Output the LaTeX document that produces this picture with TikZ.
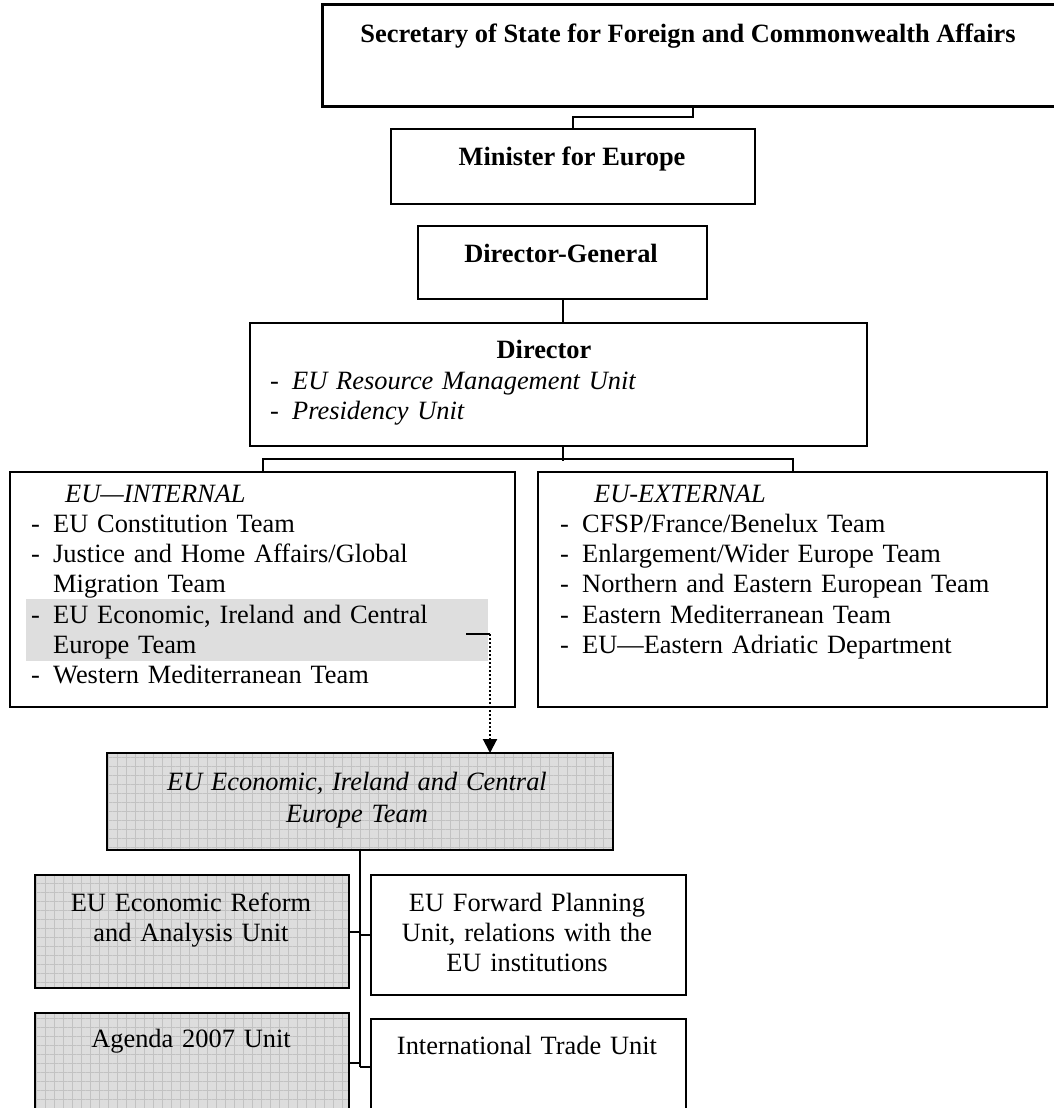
\documentclass[tikz,border=0pt]{standalone}
\usepackage{fontspec}
\setmainfont{Liberation Serif}
\usetikzlibrary{arrows.meta,positioning,patterns.meta}
\definecolor{hilite}{HTML}{DEDEDE}
\definecolor{shade}{HTML}{DDDDDD}
\definecolor{gridln}{HTML}{C2C2C2}
\newcommand{\dashitem}[1]{\makebox[22pt][l]{-}#1}
\newcommand{\contline}[1]{\hspace*{22pt}#1}
\newcommand{\headline}[1]{\hspace*{34pt}\textit{#1}}

\begin{document}
\begin{tikzpicture}[x=1pt,y=1pt,
  font=\fontsize{26.4}{30.3}\selectfont,
  box/.style={draw, line width=2pt, anchor=north west, inner sep=0pt},
  topbox/.style={box, line width=2.6pt},
  shaded/.style={box, preaction={fill=shade},
    pattern={Hatch[angle=0,distance=9pt,line width=0.6pt]}, pattern color=gridln},
  txt/.style={inner sep=0pt, anchor=base, align=center},
  lst/.style={inner sep=0pt, anchor=base west, text width=#1, align=left},
  conn/.style={line width=2pt},
]
\path[fill=white, use as bounding box] (0,0) rectangle (1053,-1108);

% Top of the chain
\node[topbox, minimum width=741pt, minimum height=102pt] (sec) at (321,-3) {};
\node[txt, font=\fontsize{26.4}{30.3}\selectfont\bfseries] (sectxt) at (688,-43)
  {Secretary of State for Foreign and Commonwealth Affairs};

\node[box, minimum width=364pt, minimum height=75pt] (min) at (390,-128) {};
\node[txt, font=\fontsize{26.4}{30.3}\selectfont\bfseries] (mintxt) at (572,-165)
  {Minister for Europe};
\draw[conn] (min.north) -- ++(0,11) -| (sec.south);

\node[box, minimum width=289pt, minimum height=73pt] (dg) at (417,-225) {};
\node[txt, font=\fontsize{26.4}{30.3}\selectfont\bfseries] (dgtxt) at (561,-262)
  {Director-General};

% Director
\node[box, minimum width=617pt, minimum height=123pt] (dir) at (249,-322) {};
\node[txt, font=\fontsize{26.4}{30.3}\selectfont\bfseries] (dirtxt) at (544,-358)
  {Director};
\node[lst=500pt] (dirlist) at (270,-389)
  {\dashitem{\textit{EU Resource Management Unit}}\\
   \dashitem{\textit{Presidency Unit}}};
\draw[conn] (dg.south) -- (dg.south |- dir.north);

% EU internal / external
\node[box, minimum width=505pt, minimum height=235pt] (int) at (9,-471) {};
\node[fill=hilite, anchor=north west, inner sep=0pt,
  minimum width=462pt, minimum height=62pt] (hl) at (26,-599) {};
\node[lst=480pt] (intlist) at (31,-502)
  {\headline{EU—INTERNAL}\\
   \dashitem{EU Constitution Team}\\
   \dashitem{Justice and Home Affairs/Global}\\
   \contline{Migration Team}\\
   \dashitem{EU Economic, Ireland and Central}\\
   \contline{Europe Team}\\
   \dashitem{Western Mediterranean Team}};

\node[box, minimum width=509pt, minimum height=235pt] (ext) at (537,-471) {};
\node[lst=480pt] (extlist) at (560,-502)
  {\headline{EU-EXTERNAL}\\
   \dashitem{CFSP/France/Benelux Team}\\
   \dashitem{Enlargement/Wider Europe Team}\\
   \dashitem{Northern and Eastern European Team}\\
   \dashitem{Eastern Mediterranean Team}\\
   \dashitem{EU—Eastern Adriatic Department}};

\draw[conn] (int.north) -- ++(0,12) -| (ext.north);
\draw[conn] (dg.south |- dir.south) -- ++(0,-14);

% Team in focus
\node[shaded, minimum width=506pt, minimum height=97pt] (team) at (107,-753) {};
\node[txt, text width=480pt, font=\fontsize{26.4}{32}\selectfont\itshape] (teamtxt) at (357,-790)
  {EU Economic, Ireland and Central\\Europe Team};

\coordinate (hook) at (466,-634);
\coordinate (bend) at (490,-634);
\draw[conn] (hook) -- (bend);
\draw[conn, dotted, -{Triangle[width=14pt,length=14pt]}] (bend) -- (bend |- team.north);

% Units
\node[shaded, minimum width=314pt, minimum height=113pt] (l1) at (34,-874) {};
\node[txt, text width=300pt] (l1txt) at (191,-911)
  {EU Economic Reform\\and Analysis Unit};
\node[box, minimum width=315pt, minimum height=120pt] (r1) at (370,-874) {};
\node[txt, text width=300pt] (r1txt) at (527,-911)
  {EU Forward Planning\\Unit, relations with the\\EU institutions};
\node[shaded, minimum width=314pt, minimum height=100pt] (l2) at (34,-1012) {};
\node[txt, text width=300pt] (l2txt) at (191,-1047) {Agenda 2007 Unit};
\node[box, minimum width=315pt, minimum height=96pt] (r2) at (370,-1018) {};
\node[txt, text width=300pt] (r2txt) at (527,-1054) {International Trade Unit};

\draw[conn] (team.south) -- (team.south |- r2.west);
\foreach \n/\a in {l1/east,l2/east,r1/west,r2/west}{
  \draw[conn] (\n.\a) -- (\n.\a -| team.south);
}

\end{tikzpicture}
\end{document}
